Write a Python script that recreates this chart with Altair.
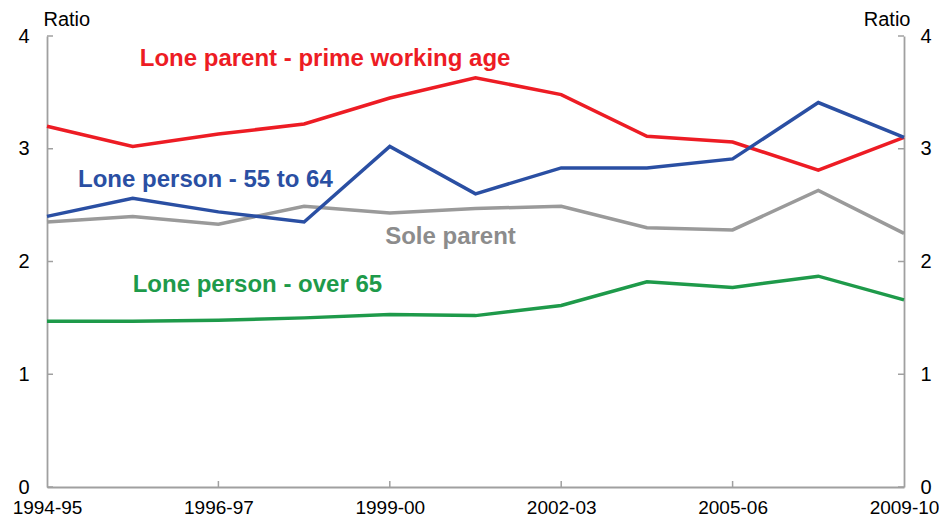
import altair as alt
import pandas as pd

years = ["1994-95", "1995-96", "1996-97", "1997-98", "1999-00", "2000-01",
         "2002-03", "2003-04", "2005-06", "2007-08", "2009-10"]
x_label_years = ["1994-95", "1996-97", "1999-00", "2002-03", "2005-06", "2009-10"]
x_tick_years = ["1996-97", "1999-00", "2002-03", "2005-06"]
y_ticks = [0, 1, 2, 3, 4]

series = ["Sole parent", "Lone person - over 65",
          "Lone parent - prime working age", "Lone person - 55 to 64"]
colors = ["#9A9A9A", "#1E9A4A", "#ED1C24", "#2A4FA3"]

sole_parent = [2.35, 2.40, 2.33, 2.49, 2.43, 2.47, 2.49, 2.30, 2.28, 2.63, 2.25]
lone_over_65 = [1.47, 1.47, 1.48, 1.50, 1.53, 1.52, 1.61, 1.82, 1.77, 1.87, 1.66]
lone_parent_prime = [3.20, 3.02, 3.13, 3.22, 3.45, 3.63, 3.48, 3.11, 3.06, 2.81, 3.10]
lone_55_64 = [2.40, 2.56, 2.44, 2.35, 3.02, 2.60, 2.83, 2.83, 2.91, 3.41, 3.10]
values = [sole_parent, lone_over_65, lone_parent_prime, lone_55_64]

# annotation labels: text, anchor category, anchor value, pixel nudge
label_texts = ["Lone parent - prime working age", "Lone person - 55 to 64",
               "Sole parent", "Lone person - over 65"]
label_colors = ["#ED1C24", "#2A4FA3", "#8C8C8C", "#1E9A4A"]
label_years = ["1997-98", "1996-97", "2000-01", "1996-97"]
label_vals = [3.73, 2.66, 2.155, 1.73]
label_dx = [21, -13, -25, 39]

rows = []
for name, vals in zip(series, values):
    for yr, v in zip(years, vals):
        rows.append({"series": name, "year": yr, "value": v})
df = pd.DataFrame(rows)

W, H = 857, 451
FONT = "Liberation Sans"
AXIS_GREY = "#A0A0A0"

yscale = alt.Scale(domain=[0, 4], nice=False, zero=False)
xscale = alt.Scale(type="point", domain=years, padding=0)
xaxis = alt.Axis(values=x_label_years, title=None, labelFontSize=19, labelFont=FONT,
                 labelColor="black", labelPadding=11, ticks=False, labelAngle=0,
                 domainColor=AXIS_GREY, domainWidth=1.8, grid=False, labelOverlap=False)


def X():
    return alt.X("year:O", scale=xscale, axis=xaxis, sort=years)


def y_axis(orient):
    return alt.Axis(values=y_ticks, orient=orient, title="Ratio", titleAngle=0,
                    titleAlign="left" if orient == "left" else "right",
                    titleBaseline="alphabetic",
                    titleX=-4 if orient == "left" else 6, titleY=-11,
                    titleFont=FONT, titleFontSize=20, titleFontWeight="normal",
                    titleColor="black", labelFont=FONT, labelFontSize=20,
                    labelColor="black", ticks=False,
                    labelPadding=18 if orient == "left" else 16,
                    domainColor=AXIS_GREY, domainWidth=1.8, grid=False, format="d")


lines = alt.Chart(df).mark_line(strokeWidth=3.5).encode(
    x=X(),
    y=alt.Y("value:Q", scale=yscale, axis=y_axis("left")),
    color=alt.Color("series:N", scale=alt.Scale(domain=series, range=colors), legend=None),
)

tick_df = pd.DataFrame({"v": y_ticks})
right_ticks = alt.Chart(tick_df).mark_rule(color=AXIS_GREY, strokeWidth=1.5).encode(
    y=alt.Y("v:Q", scale=yscale, axis=y_axis("right")),
    x=alt.value(W - 6), x2=alt.value(W),
)
left_ticks = alt.Chart(tick_df).mark_rule(color=AXIS_GREY, strokeWidth=1.5).encode(
    y=alt.Y("v:Q", scale=yscale, axis=None),
    x=alt.value(0), x2=alt.value(6),
)
x_ticks = alt.Chart(pd.DataFrame({"year": x_tick_years})).mark_rule(
    color=AXIS_GREY, strokeWidth=1.5).encode(
    x=X(), y=alt.value(H), y2=alt.value(H - 6),
)

labels = []
for t, c, yr, v, dx in zip(label_texts, label_colors, label_years, label_vals, label_dx):
    labels.append(
        alt.Chart(pd.DataFrame({"t": [t], "year": [yr], "v": [v]})).mark_text(
            dx=dx, align="center", baseline="alphabetic", fontSize=24,
            fontWeight="bold", font=FONT, color=c,
        ).encode(x=X(), y=alt.Y("v:Q", scale=yscale, axis=None), text="t:N")
    )

chart = alt.layer(lines, right_ticks, left_ticks, x_ticks, *labels).resolve_scale(
    y="independent"
).properties(
    width=W, height=H,
    padding={"left": 39, "top": 28, "right": 35, "bottom": 31},
    autosize=alt.AutoSizeParams(type="none"),
    background="white",
).configure_view(stroke=None)

chart.save("out.html", embed_options={"renderer": "svg", "actions": False})
